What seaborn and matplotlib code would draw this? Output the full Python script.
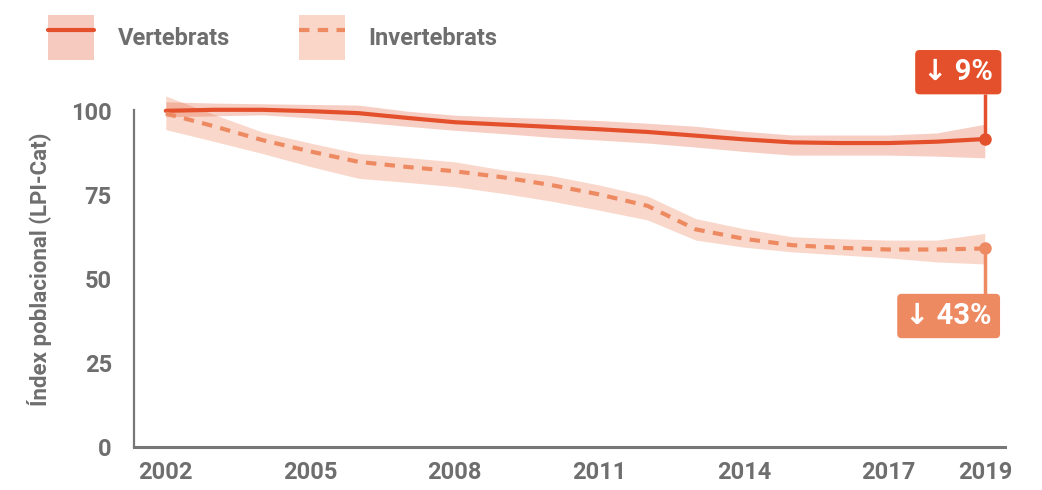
import numpy as np
import pandas as pd
import matplotlib
matplotlib.use("Agg")
import matplotlib.pyplot as plt
import seaborn as sns
from matplotlib.patches import Patch
from matplotlib.lines import Line2D

# ---- data ----
years = list(range(2002, 2020))

vert = [100.1, 100.4, 100.4, 100.0, 99.4, 98.0, 96.7, 96.0, 95.3,
        94.6, 93.8, 92.7, 91.6, 90.7, 90.5, 90.5, 90.9, 91.7]
vert_hi = [102.8, 102.4, 102.2, 102.0, 101.8, 100.0, 98.8, 98.2, 97.8,
           97.2, 96.4, 95.5, 94.0, 92.9, 92.9, 92.9, 93.5, 96.1]
vert_lo = [98.3, 98.6, 98.9, 98.0, 96.8, 95.5, 94.3, 93.3, 92.2,
           91.4, 90.5, 89.3, 88.0, 86.9, 86.9, 86.9, 86.6, 86.1]

invert = [99.3, 95.5, 91.4, 88.0, 84.9, 83.4, 82.1, 80.3, 78.0,
          75.2, 71.8, 64.8, 62.0, 60.1, 59.3, 58.8, 58.8, 59.1]
invert_hi = [104.5, 99.0, 93.8, 90.5, 87.4, 86.2, 84.9, 82.5, 80.8,
             78.0, 74.7, 68.0, 65.0, 62.6, 62.0, 61.6, 61.6, 63.6]
invert_lo = [94.5, 91.0, 87.4, 83.5, 80.0, 78.8, 77.5, 75.5, 73.2,
             70.5, 67.6, 61.6, 59.5, 58.1, 57.2, 56.3, 55.1, 54.5]

groups = ["Vertebrats", "Invertebrats"]
changes = ["\u2193 9%", "\u2193 43%"]
xticks = [2002, 2005, 2008, 2011, 2014, 2017, 2019]
yticks = [0, 25, 50, 75, 100]

RED = "#E4502C"
SALMON = "#EE8A62"
GREY = "#6E6E6E"

df = pd.DataFrame({
    "year": years * 2,
    "value": vert + invert,
    "group": ["Vertebrats"] * len(years) + ["Invertebrats"] * len(years),
})

sns.set_theme(style="white")
plt.rcParams["font.family"] = ["Roboto", "DejaVu Sans"]

fig = plt.figure(figsize=(10.42, 4.9), dpi=100)
ax = fig.add_axes([0.1286, 0.0878, 0.8359, 0.7265])

# uncertainty bands
ax.fill_between(years, invert_lo, invert_hi, color=SALMON, alpha=0.33, lw=0, zorder=1)
ax.fill_between(years, vert_lo, vert_hi, color=RED, alpha=0.28, lw=0, zorder=1)

sns.lineplot(data=df, x="year", y="value", hue="group", style="group",
             palette={"Vertebrats": RED, "Invertebrats": SALMON},
             dashes={"Vertebrats": "", "Invertebrats": (2.5, 2)},
             linewidth=3, legend=False, ax=ax, zorder=3)

# end markers, connectors and change boxes
ends = [(vert[-1], RED, 105.0, 111.6, 2018.45), (invert[-1], SALMON, 45.5, 39.0, 2018.25)]
for (yv, col, conn, box_y, box_x), label in zip(ends, changes):
    ax.vlines(years[-1], min(yv, conn), max(yv, conn), color=col, lw=2.5,
              zorder=4, clip_on=False)
    ax.plot([years[-1]], [yv], "o", color=col, ms=8, zorder=5, clip_on=False)
    ax.text(box_x, box_y, label, color="white", fontsize=21, fontweight="bold",
            ha="center", va="center", zorder=6, clip_on=False,
            bbox=dict(boxstyle="round,pad=0.28,rounding_size=0.15", fc=col, ec="none"))

ax.set_xlim(2001.34, 2019.42)
ax.set_ylim(0, 106)
ax.set_xticks(xticks)
ax.set_yticks(yticks)
ax.tick_params(axis="both", length=0, labelsize=17, colors=GREY)
ax.tick_params(axis="x", pad=10)
ax.tick_params(axis="y", pad=16)
for lab in ax.get_xticklabels() + ax.get_yticklabels():
    lab.set_fontweight("bold")

ax.set_xlabel("")
ax.set_ylabel("Índex poblacional (LPI-Cat)", fontsize=16, fontweight="bold",
              color=GREY, labelpad=14)

for s in ["top", "right"]:
    ax.spines[s].set_visible(False)
ax.spines["left"].set_color("#777777")
ax.spines["left"].set_linewidth(1.6)
ax.spines["left"].set_bounds(0, 100.3)
ax.spines["bottom"].set_color("#777777")
ax.spines["bottom"].set_linewidth(2.2)

# legend: shaded square with a line through it
handles = [
    (Patch(facecolor=RED, alpha=0.3, lw=0), Line2D([], [], color=RED, lw=3)),
    (Patch(facecolor=SALMON, alpha=0.35, lw=0),
     Line2D([], [], color=SALMON, lw=3, dashes=(2.5, 2))),
]
leg = fig.legend(handles, groups, loc="upper left", bbox_to_anchor=(0.026, 1.012),
                 ncol=2, frameon=False, fontsize=17, handlelength=1.95,
                 handleheight=2.5, handletextpad=1.0, columnspacing=2.9)
for t in leg.get_texts():
    t.set_color(GREY)
    t.set_fontweight("bold")

fig.savefig("out.png", dpi=100)
